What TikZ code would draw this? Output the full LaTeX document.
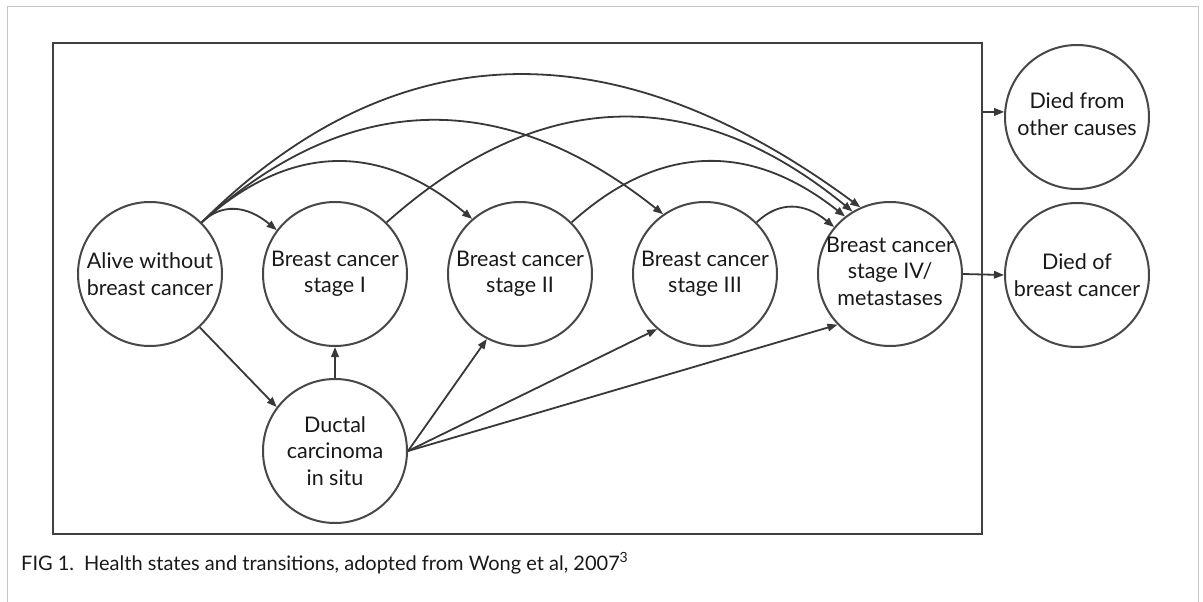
\documentclass[tikz,border=0pt]{standalone}
\usepackage{fontspec}
\setmainfont{Lato}
\usetikzlibrary{arrows.meta,calc}
\newcommand\qarc[3]{\draw[arr] (#1) .. controls ($(#1)!2/3!(#2)$) and ($(#3)!2/3!(#2)$) .. (#3);}
\begin{document}
\begin{tikzpicture}[x=1pt,y=-1pt,
  st/.style={circle,draw=black!72,line width=2pt,minimum size=144pt,inner sep=0pt},
  lbl/.style={align=center,font=\fontsize{21.5}{26.5}\selectfont,inner sep=0pt,text=black!90},
  arr/.style={draw=black!78,line width=1.8pt,-{Triangle[length=10pt,width=7.5pt]}},
]
\useasboundingbox (0,0) rectangle (1203,602);
\fill[white] (0,0) rectangle (1203,602);
\draw[black!22,line width=1pt] (7,640) -- (7,7) -- (1198,7) -- (1198,640);
\draw[black!75,line width=2.6pt] (53,43) rectangle (982,534);

\node[st,label={[lbl]center:Alive without\\breast cancer}] (A) at (150,274) {};
\node[st,label={[lbl]center:Breast cancer\\stage I}] (S1) at (335,274) {};
\node[st,label={[lbl]center:Breast cancer\\stage II}] (S2) at (520,274) {};
\node[st,label={[lbl]center:Breast cancer\\stage III}] (S3) at (705,274) {};
\node[st,label={[lbl,yshift=3pt]center:Breast cancer\\stage IV/\\metastases}] (S4) at (890,274) {};
\node[st,label={[lbl]center:Ductal\\carcinoma\\in situ}] (DC) at (335,451) {};
\node[st,label={[lbl,yshift=3pt]center:Died from\\other causes}] (D1) at (1077,117) {};
\node[st,label={[lbl]center:Died of\\breast cancer}] (D2) at (1077,275) {};
\coordinate (re) at (982,112);

\qarc{A.45}{232,193}{S1.143}
\qarc{A.45}{334,103}{S2.131}
\qarc{A.45}{423,23}{S3.125}
\qarc{A.45}{491,-65}{S4.114}
\qarc{S1.45}{616,18}{S4.121}
\qarc{S2.45}{703,104}{S4.128}
\qarc{S3.45}{790,190}{S4.140}

\draw[arr] (A.-47) -- (DC.143);
\draw[arr] (DC.north) -- (S1.south);
\draw[arr] (DC.east) -- (S2.-117);
\draw[arr] (DC.east) -- (S3.-131);
\draw[arr] (DC.east) -- (S4.-136);
\draw[arr] (S4.east) -- (D2.west);
\draw[arr] (re) -- (D1.176);

\node[anchor=base west,inner sep=0pt,font=\fontsize{20}{24}\selectfont,text=black!90] (cap) at (21,570)
  {FIG 1.\enspace Health states and transitions, adopted from Wong et al, 2007\textsuperscript{3}};
\end{tikzpicture}
\end{document}
